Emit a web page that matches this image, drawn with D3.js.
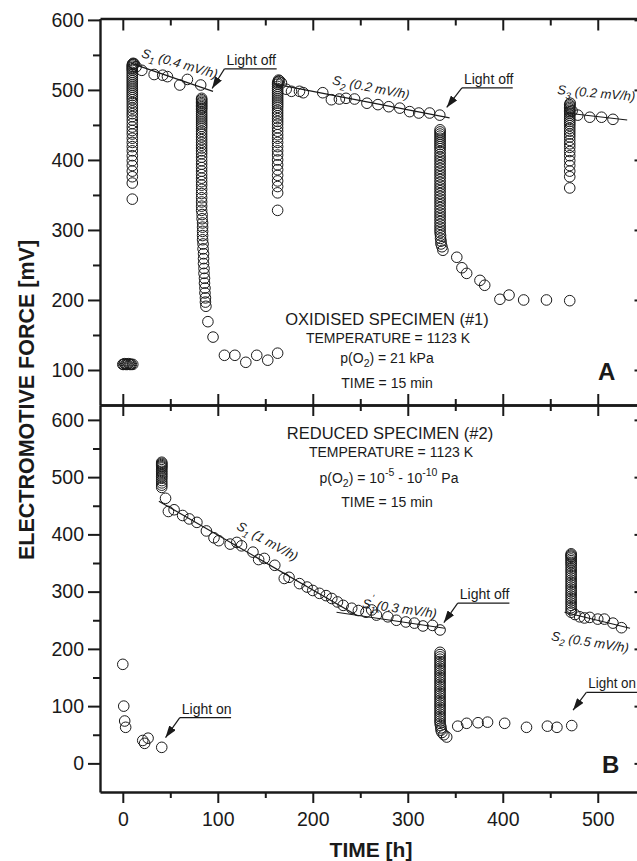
<!DOCTYPE html>
<html lang="en">

<head>
    <meta charset="UTF-8">
    <title>EMF vs time</title>
    <script src="https://d3js.org/d3.v7.min.js"></script>
    <style>
        body { margin: 0; background: #fff; }
        svg { display: block; }
    </style>
</head>

<body>
    <svg class="svgs" width="637" height="861"></svg>

    <script>
        const FONT = '"Liberation Sans", Arial, Helvetica, sans-serif';
        const INK = '#1a1a1a';

        // ---- tick values ----
        const xMajor = [0, 100, 200, 300, 400, 500];
        const xMinor = [50, 150, 250, 350, 450];
        const yMajorA = [100, 200, 300, 400, 500, 600];
        const yMinorA = [150, 250, 350, 450, 550];
        const yMajorB = [0, 100, 200, 300, 400, 500, 600];
        const yMinorB = [50, 150, 250, 350, 450, 550];

        // ---- panel A : oxidised specimen, [time h, emf mV] ----
        const aStart = [[0, 108], [1, 108], [2, 109], [3, 108], [4, 108], [5, 108], [6, 109], [7, 108], [8, 108], [9, 108], [10.5, 108]];
        const aRise1 = [[10, 344], [10, 367], [10, 376], [10, 384], [10, 392], [10, 399], [10, 406], [10, 413], [10, 419], [10, 425], [10, 431], [10, 437], [10, 442], [10, 447], [10, 452], [10, 457], [10, 462], [10, 466], [10, 470], [10, 474], [10, 478], [10, 482], [10, 486], [10, 489], [10, 492], [10, 495], [10, 498], [10, 501], [10, 504], [10, 507], [10, 510], [10, 513], [10, 516], [10, 519], [10, 522], [10, 525], [10, 528], [10, 530], [10, 532], [10, 534], [10, 536], [10.5, 537], [11, 538], [12, 537]];
        const aS1 = [[14, 533], [20, 528], [33, 522], [42, 521], [47, 519], [60, 507], [68, 515], [82, 507]];
        const aDrop1 = [[83, 488], [83, 486], [83, 484], [83, 482], [83, 480], [83, 478], [83, 476], [83, 474], [83, 472], [83, 469], [83, 466], [83, 463], [83, 460], [83, 457], [83, 454], [83, 451], [83, 448], [83, 445], [83, 441], [83, 437], [83, 433], [83, 429], [83, 425], [83, 421], [83, 417], [83, 413], [83, 409], [83, 404], [83, 399], [83, 394], [83, 389], [83, 384], [83, 379], [83, 374], [83, 369], [83, 364], [83, 358], [83, 352], [83, 346], [83, 340], [83, 334], [83, 328], [83.5, 322], [83.5, 316], [84, 310], [84, 304], [84, 298], [84, 292], [84, 286], [84.5, 280], [84.5, 273], [85, 266], [85, 259], [85, 252], [85.5, 245], [85.5, 238], [86, 231], [86, 224], [86.5, 217], [86.5, 210], [87, 203], [87, 197], [87.5, 191], [89.6, 169], [95, 147]];
        const aLow1 = [[107, 121], [118, 121], [129.5, 111], [141, 121], [152.6, 114], [163, 124]];
        const aRise2 = [[163, 328], [163, 353], [163, 362], [163, 370], [163, 378], [163, 386], [163, 393], [163, 400], [163, 407], [163, 413], [163, 419], [163, 425], [163, 431], [163, 436], [163, 441], [163, 446], [163, 451], [163, 455], [163, 459], [163, 463], [163, 467], [163, 471], [163, 475], [163, 478], [163, 481], [163, 484], [163, 487], [163, 490], [163, 493], [163, 496], [163, 499], [163, 502], [163, 505], [163, 508], [163, 510], [163.5, 512], [164, 514], [165, 513]];
        const aS2 = [[167, 510], [172, 501], [177.6, 498], [186, 498], [190, 496], [210.5, 496], [219.6, 486], [228, 487], [235, 488], [244, 487], [257, 481], [268.6, 479], [280, 476], [291.6, 474], [302, 469], [311.6, 467], [323, 467], [333.7, 464]];
        const aDrop2 = [[334, 443], [334, 440], [334, 437], [334, 434], [334, 431], [334, 428], [334, 425], [334, 422], [334, 419], [334, 416], [334, 412], [334, 408], [334, 404], [334, 400], [334, 396], [334, 392], [334, 388], [334, 384], [334, 380], [334, 376], [334, 372], [334, 368], [334, 364], [334, 360], [334, 356], [334, 352], [334, 348], [334, 344], [334, 340], [334, 336], [334, 332], [334, 328], [334, 324], [334, 320], [334, 316], [334, 312], [334, 308], [334, 304], [334, 300], [334, 296], [334.5, 292], [334.5, 288], [335, 284], [335, 280], [336, 276], [337, 271]];
        const aLow2 = [[351.6, 261], [357, 246], [362, 238], [376, 228], [381, 221], [397, 201], [406.6, 207], [422, 200], [446, 200], [470.5, 199]];
        const aRise3 = [[470.5, 360], [470.5, 376], [470.5, 384], [470.5, 392], [470.5, 399], [470.5, 406], [470.5, 412], [470.5, 418], [470.5, 423], [470.5, 428], [470.5, 433], [470.5, 437], [470.5, 441], [470.5, 445], [470.5, 449], [470.5, 452], [470.5, 455], [470.5, 458], [470.5, 461], [470.5, 464], [470.5, 467], [470.5, 469], [470.5, 471], [470.5, 473], [470.5, 475], [470.5, 477], [470.5, 479], [471, 481]];
        const aS3 = [[473, 470], [479, 464], [491.6, 461], [504, 461], [516, 458]];

        // ---- panel B : reduced specimen ----
        const bStart = [[0, 173], [1, 100], [2, 74], [3, 63], [21, 40], [23, 35], [26.6, 44], [41, 28]];
        const bRise1 = [[41, 482], [41, 486], [41, 490], [41, 494], [41, 498], [41, 501], [41, 504], [41, 507], [41, 510], [41, 513], [41, 516], [41, 518], [41, 520], [41, 522], [41, 524], [41, 526], [45, 463]];
        const bS1 = [[48, 440], [54, 443], [63, 433], [70, 427], [78, 421], [88, 406], [96, 394], [101, 389], [113, 383], [120, 386], [125, 380], [137, 369], [143, 356], [149, 358], [160, 346], [170, 323], [175, 325], [186, 314], [194, 308], [200, 302], [207, 297], [214, 293], [220, 288], [226, 282], [232, 276], [241, 271], [248, 267], [256, 264], [262, 268], [267, 259], [279, 256], [288, 250], [298, 247], [307, 245], [316, 240], [326, 241], [334, 233]];
        const bDrop = [[334, 194], [334, 190], [334, 186], [334, 182], [334, 178], [334, 174], [334, 170], [334, 166], [334, 162], [334, 158], [334, 154], [334, 150], [334, 146], [334, 142], [334, 138], [334, 134], [334, 130], [334, 126], [334, 122], [334, 118], [334, 114], [334, 110], [334, 106], [334, 102], [334, 98], [334, 94], [334, 90], [334, 86], [334, 82], [334, 78], [334, 74], [334, 70], [334.5, 66], [335, 62], [335, 58], [336, 54], [338, 50], [341, 46]];
        const bLow = [[352.6, 65], [362, 70], [374, 71], [384, 72], [402, 70], [425, 63], [447, 65], [457, 63], [472.6, 66]];
        const bRise2 = [[472, 264], [472, 268], [472, 272], [472, 276], [472, 280], [472, 284], [472, 288], [472, 292], [472, 296], [472, 300], [472, 304], [472, 308], [472, 312], [472, 316], [472, 320], [472, 324], [472, 328], [472, 332], [472, 336], [472, 340], [472, 344], [472, 348], [472, 351], [472, 354], [472, 357], [472, 360], [472, 362], [472, 364], [472, 366]];
        const bS2 = [[476, 260], [481, 256], [486, 254], [491.6, 255], [500, 252], [507, 252], [516, 245], [525, 237]];

        // straight-line fits (time, mV at each end)
        const fitsA = [[9, 538, 95, 498], [162, 508, 344, 460], [467, 467, 531, 457]];
        const fitsB = [[38, 458, 247, 258], [225, 264, 339, 236], [465, 264, 534, 236]];

        // slope labels: subscript, rate text, anchor (time, mV), angle, primed
        const slopesA = [['1', '(0.4 mV/h)', 19, 547, 16, false], ['2', '(0.2 mV/h)', 220, 508, 11, false], ['3', '(0.2 mV/h)', 457, 494, 5, false]];
        const slopesB = [['1', '(1 mV/h)', 119, 410, 29, false], ['1', '(0.3 mV/h)', 251.6, 272, 8, true], ['2', '(0.5 mV/h)', 450.5, 215, 9, false]];

        // light on/off notes: label, underline start/end (time), underline mV, arrow tip (time, mV)
        const notesA = [['Light off', 107, 162, 530, 94, 502], ['Light off', 357, 410.5, 503, 341, 475]];
        const notesB = [['Light on', 60, 114, 80, 45, 45], ['Light off', 352.6, 407, 280, 338, 246], ['Light on', 488, 545, 124, 474, 93]];

        const svg = d3.select('.svgs')
        const width = +svg.attr('width');
        const plotLeft = 100, plotRight = 640.5;
        const topA = 18.5, split = 405, bottomB = 792;

        const x = d3.scaleLinear().domain([-24, 545]).range([plotLeft, plotRight]);
        const yA = d3.scaleLinear().domain([50, 602]).range([split, topA]);
        const yB = d3.scaleLinear().domain([-50, 626]).range([bottomB, split]);

        const defs = svg.append('defs');
        defs.append('marker')
            .attr('id', 'head')
            .attr('markerUnits', 'userSpaceOnUse')
            .attr('markerWidth', 13).attr('markerHeight', 8)
            .attr('refX', 12).attr('refY', 4)
            .attr('orient', 'auto')
            .append('path')
            .attr('d', 'M0,0 L12,4 L0,8 Z')
            .attr('fill', INK);

        function styleAxis(g, labelSize) {
            g.attr('font-family', FONT).attr('font-size', labelSize || 19.5);
            g.select('.domain').attr('stroke', INK).attr('stroke-width', 2.4);
            g.selectAll('.tick line').attr('stroke', INK).attr('stroke-width', 2);
            g.selectAll('.tick text').attr('fill', INK);
        }

        // left axes
        const leftA = svg.append('g').attr('transform', `translate(${plotLeft},0)`)
            .call(d3.axisLeft(yA).tickValues(yMajorA).tickSize(12).tickSizeOuter(0).tickPadding(4));
        styleAxis(leftA);
        const leftAm = svg.append('g').attr('transform', `translate(${plotLeft},0)`)
            .call(d3.axisLeft(yA).tickValues(yMinorA).tickSize(7).tickFormat(''));
        leftAm.select('.domain').remove();
        styleAxis(leftAm);

        const leftB = svg.append('g').attr('transform', `translate(${plotLeft},0)`)
            .call(d3.axisLeft(yB).tickValues(yMajorB).tickSize(12).tickSizeOuter(0).tickPadding(4));
        styleAxis(leftB);
        const leftBm = svg.append('g').attr('transform', `translate(${plotLeft},0)`)
            .call(d3.axisLeft(yB).tickValues(yMinorB).tickSize(7).tickFormat(''));
        leftBm.select('.domain').remove();
        styleAxis(leftBm);

        // right border, ticks pointing inward
        [[yA, yMajorA], [yB, yMajorB]].forEach(([ys, vals]) => {
            const g = svg.append('g').attr('transform', `translate(${plotRight},0)`)
                .call(d3.axisLeft(ys).tickValues(vals).tickSize(6).tickSizeOuter(0).tickFormat(''));
            styleAxis(g);
        });

        // top border
        const topG = svg.append('g').attr('transform', `translate(0,${topA})`)
            .call(d3.axisBottom(x).tickValues(xMajor).tickSize(12).tickSizeOuter(0).tickFormat(''));
        styleAxis(topG);
        const topGm = svg.append('g').attr('transform', `translate(0,${topA})`)
            .call(d3.axisBottom(x).tickValues(xMinor).tickSize(7).tickFormat(''));
        topGm.select('.domain').remove();
        styleAxis(topGm);

        // divider between the panels, ticks on both sides
        [d3.axisBottom, d3.axisTop].forEach(ax => {
            const g = svg.append('g').attr('transform', `translate(0,${split})`)
                .call(ax(x).tickValues(xMajor).tickSize(11).tickSizeOuter(0).tickFormat(''));
            styleAxis(g);
            const gm = svg.append('g').attr('transform', `translate(0,${split})`)
                .call(ax(x).tickValues(xMinor).tickSize(6).tickFormat(''));
            gm.select('.domain').remove();
            styleAxis(gm);
        });

        // bottom axis with labels
        const bottom = svg.append('g').attr('transform', `translate(0,${bottomB})`)
            .call(d3.axisBottom(x).tickValues(xMajor).tickSize(11).tickSizeOuter(0).tickPadding(9));
        styleAxis(bottom);
        const bottomM = svg.append('g').attr('transform', `translate(0,${bottomB})`)
            .call(d3.axisBottom(x).tickValues(xMinor).tickSize(6).tickFormat(''));
        bottomM.select('.domain').remove();
        styleAxis(bottomM);

        // axis titles
        svg.append('text')
            .attr('transform', 'translate(34,400) rotate(-90)')
            .attr('text-anchor', 'middle')
            .attr('font-family', FONT).attr('font-weight', 'bold').attr('font-size', 21.5)
            .attr('fill', INK)
            .text('ELECTROMOTIVE FORCE [mV]');
        svg.append('text')
            .attr('x', 371).attr('y', 857)
            .attr('text-anchor', 'middle')
            .attr('font-family', FONT).attr('font-weight', 'bold').attr('font-size', 21)
            .attr('fill', INK)
            .text('TIME [h]');

        // fitted lines
        function drawFits(fits, ys) {
            svg.append('g').selectAll('line').data(fits).join('line')
                .attr('x1', d => x(d[0])).attr('y1', d => ys(d[1]))
                .attr('x2', d => x(d[2])).attr('y2', d => ys(d[3]))
                .attr('stroke', INK).attr('stroke-width', 1.2);
        }
        drawFits(fitsA, yA);
        drawFits(fitsB, yB);

        // data points (open circles)
        function drawPoints(data, ys) {
            svg.append('g').selectAll('circle').data(data).join('circle')
                .attr('cx', d => x(d[0])).attr('cy', d => ys(d[1]))
                .attr('r', 5.3)
                .attr('fill', 'none')
                .attr('stroke', INK)
                .attr('stroke-width', 1);
        }
        [aStart, aRise1, aS1, aDrop1, aLow1, aRise2, aS2, aDrop2, aLow2, aRise3, aS3].forEach(s => drawPoints(s, yA));
        [bStart, bRise1, bS1, bDrop, bLow, bRise2, bS2].forEach(s => drawPoints(s, yB));

        // slope labels
        function drawSlopes(list, ys) {
            list.forEach(([sub, rate, t, v, ang, prime]) => {
                const txt = svg.append('text')
                    .attr('transform', `translate(${x(t)},${ys(v)}) rotate(${ang})`)
                    .attr('font-family', FONT).attr('font-style', 'italic').attr('font-size', 13)
                    .attr('fill', INK);
                txt.append('tspan').text('S');
                txt.append('tspan').attr('dy', 4).attr('font-size', 9.5).text(sub);
                if (prime) {
                    txt.append('tspan').attr('dx', -5).attr('dy', -12).attr('font-size', 9.5).text('′');
                    txt.append('tspan').attr('dy', 8).text(' ' + rate);
                } else {
                    txt.append('tspan').attr('dy', -4).text(' ' + rate);
                }
            });
        }
        drawSlopes(slopesA, yA);
        drawSlopes(slopesB, yB);

        // light on / off notes
        function drawNotes(list, ys) {
            list.forEach(([label, t0, t1, v, tt, tv]) => {
                const g = svg.append('g');
                g.append('line')
                    .attr('x1', x(t0)).attr('x2', x(t1)).attr('y1', ys(v)).attr('y2', ys(v))
                    .attr('stroke', INK).attr('stroke-width', 1.2);
                g.append('line')
                    .attr('x1', x(t0)).attr('y1', ys(v)).attr('x2', x(tt)).attr('y2', ys(tv))
                    .attr('stroke', INK).attr('stroke-width', 1.2)
                    .attr('marker-end', 'url(#head)');
                const lab = g.append('text')
                    .attr('x', x(t0) + 2).attr('y', ys(v) - 4)
                    .attr('font-family', FONT).attr('font-size', 14).attr('fill', INK)
                    .text(label);
                // keep the label inside the page
                const over = lab.node().getComputedTextLength() + x(t0) + 2 - (width - 1);
                if (over > 0) lab.attr('textLength', lab.node().getComputedTextLength() - over)
                    .attr('lengthAdjust', 'spacingAndGlyphs');
            });
        }
        drawNotes(notesA, yA);
        drawNotes(notesB, yB);

        // condition text blocks
        function infoLine(cx, cy, size) {
            return svg.append('text').attr('x', cx).attr('y', cy)
                .attr('text-anchor', 'middle')
                .attr('font-family', FONT).attr('font-size', size).attr('fill', INK);
        }
        infoLine(387, 325, 16.5).text('OXIDISED SPECIMEN (#1)');
        infoLine(388, 343, 14).text('TEMPERATURE = 1123 K');
        let p = infoLine(387, 363, 14);
        p.append('tspan').text('p(O');
        p.append('tspan').attr('dy', 4).attr('font-size', 10.5).text('2');
        p.append('tspan').attr('dy', -4).text(') = 21 kPa');
        infoLine(387, 388, 14).text('TIME = 15 min');

        infoLine(390, 439, 16.5).text('REDUCED SPECIMEN (#2)');
        infoLine(391, 457, 14).text('TEMPERATURE = 1123 K');
        p = infoLine(389, 483, 14);
        p.append('tspan').text('p(O');
        p.append('tspan').attr('dy', 4).attr('font-size', 10.5).text('2');
        p.append('tspan').attr('dy', -4).text(') = 10');
        p.append('tspan').attr('dy', -7).attr('font-size', 10.5).text('-5');
        p.append('tspan').attr('dy', 7).text(' - 10');
        p.append('tspan').attr('dy', -7).attr('font-size', 10.5).text('-10');
        p.append('tspan').attr('dy', 7).text(' Pa');
        infoLine(387, 507, 14).text('TIME = 15 min');

        // panel letters
        svg.append('text').attr('x', 598).attr('y', 380)
            .attr('font-family', FONT).attr('font-weight', 'bold').attr('font-size', 24).attr('fill', INK)
            .text('A');
        svg.append('text').attr('x', 602).attr('y', 773)
            .attr('font-family', FONT).attr('font-weight', 'bold').attr('font-size', 24).attr('fill', INK)
            .text('B');
    </script>
</body>

</html>
